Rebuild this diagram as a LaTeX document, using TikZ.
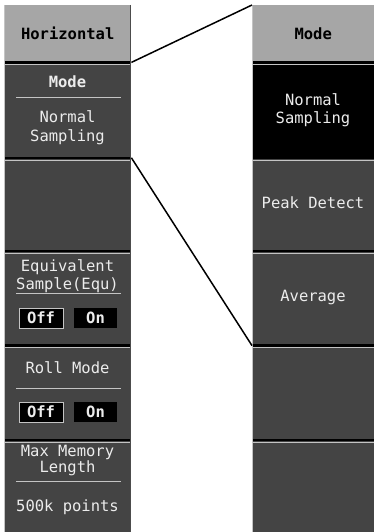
\documentclass[tikz,border=0pt]{standalone}
\usepackage{fontspec}
\setmonofont{DejaVu Sans Mono}
\usepackage{tikz}
\usetikzlibrary{positioning}
\definecolor{hdrgray}{RGB}{166,166,166}
\definecolor{pnlgray}{RGB}{68,68,68}
\definecolor{txtgray}{RGB}{236,236,236}
\definecolor{rulegray}{RGB}{196,196,196}

\begin{document}
\begin{tikzpicture}[x=1pt,y=-1pt,
	hdr/.style={fill=hdrgray,minimum width=127pt,minimum height=57pt,inner sep=0pt,anchor=north west},
	pnl/.style={fill=pnlgray,minimum width=127pt,inner sep=0pt},
	lbl/.style={font=\ttfamily\fontsize{15.5}{18.5}\selectfont,text=txtgray,align=center,inner sep=0pt},
	hlbl/.style={lbl,text=black,font=\ttfamily\bfseries\fontsize{15.5}{18.5}\selectfont},
	sep/.style={line width=2.4pt},
	bev/.style={rulegray,line width=1pt},
	btn/.style={hlbl,text=txtgray,fill=black,minimum width=43pt,minimum height=20pt}]
	\useasboundingbox (0,0) rectangle (374,532);
	% left column
	\node[hdr] (lhdr) at (4,5) {};
	\node[pnl,minimum height=95pt,below=0pt of lhdr] (lmode) {};
	\node[pnl,minimum height=93pt,below=0pt of lmode] (lblank) {};
	\node[pnl,minimum height=94pt,below=0pt of lblank] (lequ) {};
	\node[pnl,minimum height=94pt,below=0pt of lequ] (lroll) {};
	\node[pnl,minimum height=94pt,below=0pt of lroll] (lmem) {};
	% right column
	\node[hdr,minimum width=122pt] (rhdr) at (252,5) {};
	\node[pnl,fill=black,minimum width=122pt,minimum height=95pt,below=0pt of rhdr] (rnorm) {};
	\node[pnl,minimum width=122pt,minimum height=93pt,below=0pt of rnorm] (rpeak) {};
	\node[pnl,minimum width=122pt,minimum height=94pt,below=0pt of rpeak] (rave) {};
	\node[pnl,minimum width=122pt,minimum height=94pt,below=0pt of rave] (rblank) {};
	\node[pnl,minimum width=122pt,minimum height=94pt,below=0pt of rblank] (rlast) {};
	% separators and edges
	\foreach \b in {lmode,lblank,lequ,lroll,lmem,rnorm,rpeak,rave,rblank,rlast}{
		\draw[bev] ([yshift=-2.2pt]\b.north west) -- ([yshift=-2.2pt]\b.north east);
		\draw[sep] (\b.north west) -- (\b.north east);
	}
	\draw[bev] ([xshift=0.5pt]lhdr.north west) -- ([xshift=0.5pt]lmem.south west);
	\draw[bev] ([xshift=0.5pt]rhdr.north west) -- ([xshift=0.5pt]rlast.south west);
	\draw[black!70,line width=1pt] ([xshift=-0.5pt]lhdr.north east) -- ([xshift=-0.5pt]lmem.south east);
	% left texts
	\node[hlbl] (thor) at (lhdr) {Horizontal};
	\node[hlbl,text=txtgray] (tmode) at (67.5,82) {Mode};
	\draw[bev] (16,98) -- (121,98);
	\node[lbl] (tnorm) at (67.5,127.5) {Normal\\Sampling};
	\node[lbl] (tequ) at (67.5,276) {Equivalent\\Sample(Equ)};
	\draw[bev] (16,293) -- (121,293);
	\node[btn,draw=rulegray,line width=1pt,minimum width=44pt] (equoff) at (41,318) {Off};
	\node[btn] (equon) at (95.5,318) {On};
	\node[lbl] (troll) at (67.5,368) {Roll Mode};
	\draw[bev] (16,388) -- (121,388);
	\node[btn,draw=rulegray,line width=1pt,minimum width=44pt] (rolloff) at (41,412) {Off};
	\node[btn] (rollon) at (95.5,412) {On};
	\node[lbl,font=\ttfamily\fontsize{15.5}{16.5}\selectfont] (tmem) at (67.5,460.5) {Max Memory\\Length};
	\draw[bev] (16,481) -- (121,481);
	\node[lbl] (tpts) at (67.5,507) {500k points};
	% right texts
	\node[hlbl] (trmode) at (rhdr) {Mode};
	\node[lbl] (trnorm) at (313,110) {Normal\\Sampling};
	\node[lbl] (trpeak) at (313,203) {Peak Detect};
	\node[lbl] (trave) at (313,298) {Average};
	% connectors
	\draw[line width=1.5pt] (lmode.north east) -- (rhdr.north west);
	\draw[line width=1.5pt] (lmode.south east) -- (rave.south west);
\end{tikzpicture}
\end{document}
